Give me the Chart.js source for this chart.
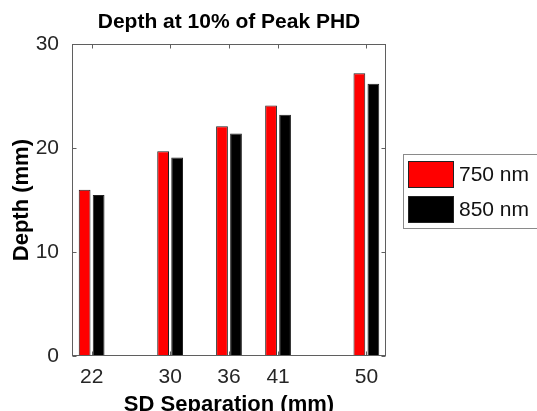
<!DOCTYPE html>
<html><head><meta charset="utf-8">
<script src="https://cdn.jsdelivr.net/npm/chart.js@4.4.1/dist/chart.umd.min.js"></script>
<style>html,body{margin:0;padding:0;background:#fff;overflow:hidden;}</style>
</head><body>
<canvas id="c" width="537" height="411"></canvas>
<script>
const separations = [22, 30, 36, 41, 50];
const depth750 = [16.0, 19.7, 22.1, 24.1, 27.2];
const depth850 = [15.5, 19.1, 21.4, 23.2, 26.2];
const seriesLabels = ['750 nm', '850 nm'];
const seriesColors = ['#ff0000', '#000000'];
const yTicks = [0, 10, 20, 30];

const FONT = '"Liberation Sans", Arial, Helvetica, sans-serif';
const TEXT = '#262626';
const AXIS = '#5f5f5f';

const framePlugin = {
  id: 'frame',
  afterDatasetsDraw(chart) {
    const {ctx, chartArea: a, scales: {x, y}} = chart;
    const L = Math.round(a.left) + 0.5, R = Math.round(a.right) - 0.5;
    const T = Math.round(a.top) + 0.5, B = Math.round(a.bottom) - 0.5;
    ctx.save();
    ctx.strokeStyle = AXIS;
    ctx.lineWidth = 1;
    ctx.strokeRect(L, T, R - L, B - T);
    const tl = 4;
    ctx.beginPath();
    separations.forEach(v => {
      const px = Math.round(x.getPixelForValue(v)) + 0.5;
      ctx.moveTo(px, B); ctx.lineTo(px, B - tl);
      ctx.moveTo(px, T); ctx.lineTo(px, T + tl);
    });
    yTicks.forEach(v => {
      const py = Math.round(y.getPixelForValue(v)) + 0.5;
      ctx.moveTo(L, py); ctx.lineTo(L + tl, py);
      ctx.moveTo(R, py); ctx.lineTo(R - tl, py);
    });
    ctx.stroke();

    // legend
    const bx = 403.5, by = 154.5, bw = 200, bh = 74;
    ctx.fillStyle = '#fff';
    ctx.fillRect(bx, by, bw, bh);
    ctx.strokeStyle = '#8a8a8a';
    ctx.strokeRect(bx, by, bw, bh);
    const rows = [161, 196];
    chart.data.datasets.forEach((ds, i) => {
      const sy = rows[i];
      ctx.fillStyle = ds.backgroundColor;
      ctx.fillRect(408, sy, 46, 27);
      ctx.strokeStyle = '#222';
      ctx.strokeRect(408.5, sy + 0.5, 45, 26);
      ctx.fillStyle = '#111';
      ctx.font = '21px ' + FONT;
      ctx.textAlign = 'left';
      ctx.textBaseline = 'middle';
      ctx.fillText(ds.label, 459, sy + 14.5);
    });
    ctx.restore();
  }
};

const mk = (vals) => separations.map((s, i) => ({x: s, y: vals[i]}));

new Chart(document.getElementById('c'), {
  type: 'bar',
  data: {
    datasets: [
      {label: seriesLabels[0], data: mk(depth750), backgroundColor: seriesColors[0],
       borderColor: '#222', borderWidth: 1, borderSkipped: false,
       categoryPercentage: 0.571, barPercentage: 0.84},
      {label: seriesLabels[1], data: mk(depth850), backgroundColor: seriesColors[1],
       borderColor: '#222', borderWidth: 1, borderSkipped: false,
       categoryPercentage: 0.571, barPercentage: 0.84}
    ]
  },
  options: {
    responsive: false,
    animation: false,
    layout: {padding: {left: 0, right: 151, top: 0, bottom: 0}},
    plugins: {
      legend: {display: false},
      tooltip: {enabled: false},
      title: {
        display: true, text: 'Depth at 10% of Peak PHD', fullSize: false, color: '#000',
        font: {family: FONT, size: 21, weight: 'bold', lineHeight: 1.2},
        padding: {top: 10, bottom: 9}
      }
    },
    scales: {
      x: {
        type: 'linear', min: 20, max: 52, offset: false,
        grid: {display: false}, border: {display: false},
        afterBuildTicks: s => { s.ticks = separations.map(v => ({value: v})); },
        afterFit: s => { s.height = 55; },
        ticks: {color: TEXT, font: {family: FONT, size: 21}, padding: 1, maxRotation: 0, autoSkip: false},
        title: {display: true, text: 'SD Separation (mm)', color: '#000',
          font: {family: FONT, size: 22, weight: 'bold', lineHeight: 1}, padding: {top: 0, bottom: -5}}
      },
      y: {
        min: 0, max: 30,
        grid: {display: false}, border: {display: false},
        afterBuildTicks: s => { s.ticks = yTicks.map(v => ({value: v})); },
        afterFit: s => { s.width = 72; },
        ticks: {color: TEXT, font: {family: FONT, size: 21}, padding: 5},
        title: {display: true, text: 'Depth (mm)', color: '#000',
          font: {family: FONT, size: 22, weight: 'bold', lineHeight: 1.2}, padding: {top: 9, bottom: 0}}
      }
    }
  },
  plugins: [framePlugin]
});
</script>
</body></html>
